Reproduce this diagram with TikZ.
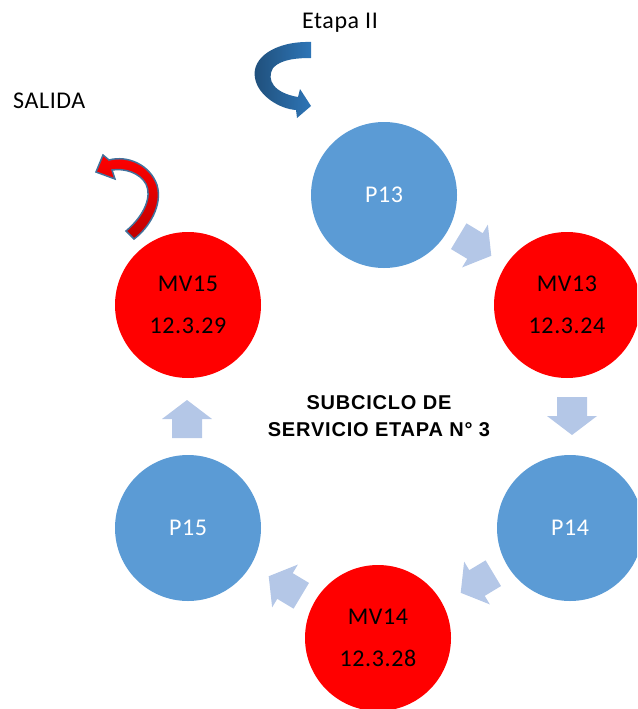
\documentclass[tikz,border=0pt]{standalone}
\usepackage{fontspec}
\setmainfont{Carlito}
\newfontfamily\lblfont[LetterSpace=2.5]{Carlito}
\newfontfamily\headfont[LetterSpace=4]{Liberation Sans}
\definecolor{stepblue}{HTML}{5B9BD5}
\definecolor{steparrow}{HTML}{B4C7E7}
\definecolor{darkedge}{HTML}{41719C}
\definecolor{turnblue}{HTML}{2E75B6}
\definecolor{turndark}{HTML}{1F4E79}
\tikzset{
  pcircle/.style={circle, fill=stepblue, minimum size=146pt, inner sep=0pt,
    text=white, font=\lblfont\fontsize{24}{28}\selectfont},
  mvcircle/.style={circle, fill=red, minimum size=146pt, inner sep=0pt,
    text=black, font=\lblfont\fontsize{24}{42}\selectfont, align=center},
  plain/.style={font=\lblfont\fontsize{24}{28}\selectfont, inner sep=0pt},
  blockarrow/.style={fill=steparrow, draw=none},
}
% block arrow pointing along +x, centred on the origin
\newcommand{\blockarrowshape}{(-19,-15) -- (0,-15) -- (0,-25) -- (19,0) -- (0,25) -- (0,15) -- (-19,15) -- cycle}
\begin{document}
\begin{tikzpicture}[x=1pt,y=-1pt]
\useasboundingbox (0,0) rectangle (637,709);
\clip (0,0) rectangle (637,709);

% stage circles
\node[pcircle]  (p13)  at (384,195) {P13};
\node[mvcircle] (mv13) at (567,305) {MV13\\12.3.24};
\node[pcircle]  (p14)  at (570,528) {P14};
\node[mvcircle] (mv14) at (378,638) {MV14\\12.3.28};
\node[pcircle]  (p15)  at (188,528) {P15};
\node[mvcircle] (mv15) at (188,305) {MV15\\12.3.29};

% centre title
\node[font=\headfont\bfseries\fontsize{20}{27}\selectfont, align=center] (title) at (379,416)
  {SUBCICLO DE\\SERVICIO ETAPA N° 3};

% labels
\node[plain, anchor=base] (etapa) at (340,29) {Etapa II};
\node[plain, anchor=base west] (salida) at (13,108) {SALIDA};

% arrows between the circles
\fill[blockarrow, shift={(475,246)}, rotate=-31] \blockarrowshape;
\fill[blockarrow, shift={(572,416)}, rotate=-90] \blockarrowshape;
\fill[blockarrow, shift={(477,583)}, rotate=-149] \blockarrowshape;
\fill[blockarrow, shift={(285,586)}, rotate=149] \blockarrowshape;
\fill[blockarrow, shift={(187,419)}, rotate=90] \blockarrowshape;

% entry arrow (U-turn into P13)
\shade[left color=turndark, right color=turnblue]
  (311,42) .. controls (275,41) and (251,58) .. (255,78)
  .. controls (258,96) and (280,109) .. (296,110)
  -- (297,118) -- (311,106) -- (300,89) -- (298,97)
  .. controls (274,93) and (266,80) .. (273,68)
  .. controls (281,59) and (298,58) .. (311,58) -- cycle;

% exit arrow (leaving MV15)
\shade[top color=red, bottom color=red!75!black, draw=darkedge, line width=1.5pt, line join=miter]
  (126,231) .. controls (145,215) and (152,196) .. (146,184)
  .. controls (140,173) and (125,168) .. (112,170)
  -- (115,179) -- (96,172) -- (103,155) -- (109,160)
  .. controls (128,155) and (150,165) .. (157,185)
  .. controls (163,205) and (149,228) .. (134,239) -- cycle;
\end{tikzpicture}
\end{document}
